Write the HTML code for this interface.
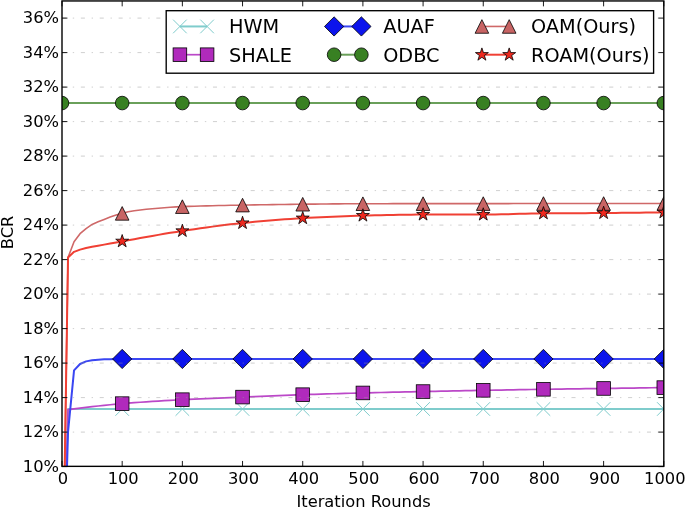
<!DOCTYPE html>
<html lang="en"><head><meta charset="utf-8"><title>BCR vs Iteration Rounds</title>
<style>html,body{margin:0;padding:0;background:#fff}body{width:685px;height:507px;overflow:hidden}</style>
</head><body>
<svg width="685" height="507" viewBox="0 0 685 507" style="display:block;font-family:'DejaVu Sans', 'Liberation Sans', sans-serif">
<rect width="685" height="507" fill="#fff"/>
<defs><clipPath id="ax"><rect x="62.0" y="0.95" width="601.8" height="465.40000000000003"/></clipPath></defs>
<g clip-path="url(#ax)">
<polyline points="62.00,639.10 68.02,408.99 74.04,408.99 80.05,408.99 86.07,408.99 92.09,408.99 98.11,408.99 104.13,408.99 110.14,408.99 116.16,408.99 122.18,408.99 128.20,408.99 134.22,408.99 140.23,408.99 146.25,408.99 152.27,408.99 158.29,408.99 164.31,408.99 170.32,408.99 176.34,408.99 182.36,408.99 188.38,408.99 194.40,408.99 200.41,408.99 206.43,408.99 212.45,408.99 218.47,408.99 224.49,408.99 230.50,408.99 236.52,408.99 242.54,408.99 248.56,408.99 254.58,408.99 260.59,408.99 266.61,408.99 272.63,408.99 278.65,408.99 284.67,408.99 290.68,408.99 296.70,408.99 302.72,408.99 308.74,408.99 314.76,408.99 320.77,408.99 326.79,408.99 332.81,408.99 338.83,408.99 344.85,408.99 350.86,408.99 356.88,408.99 362.90,408.99 368.92,408.99 374.94,408.99 380.95,408.99 386.97,408.99 392.99,408.99 399.01,408.99 405.03,408.99 411.04,408.99 417.06,408.99 423.08,408.99 429.10,408.99 435.12,408.99 441.13,408.99 447.15,408.99 453.17,408.99 459.19,408.99 465.21,408.99 471.22,408.99 477.24,408.99 483.26,408.99 489.28,408.99 495.30,408.99 501.31,408.99 507.33,408.99 513.35,408.99 519.37,408.99 525.39,408.99 531.40,408.99 537.42,408.99 543.44,408.99 549.46,408.99 555.48,408.99 561.49,408.99 567.51,408.99 573.53,408.99 579.55,408.99 585.57,408.99 591.58,408.99 597.60,408.99 603.62,408.99 609.64,408.99 615.66,408.99 621.67,408.99 627.69,408.99 633.71,408.99 639.73,408.99 645.75,408.99 651.76,408.99 657.78,408.99 663.80,408.99" fill="none" stroke="#7fcccc" stroke-width="2.0" stroke-linejoin="round"/>
<path d="M55.20,632.30L68.80,645.90M55.20,645.90L68.80,632.30" stroke="#7fcccc" stroke-width="1.0" fill="none"/>
<path d="M115.38,402.19L128.98,415.79M115.38,415.79L128.98,402.19" stroke="#7fcccc" stroke-width="1.0" fill="none"/>
<path d="M175.56,402.19L189.16,415.79M175.56,415.79L189.16,402.19" stroke="#7fcccc" stroke-width="1.0" fill="none"/>
<path d="M235.74,402.19L249.34,415.79M235.74,415.79L249.34,402.19" stroke="#7fcccc" stroke-width="1.0" fill="none"/>
<path d="M295.92,402.19L309.52,415.79M295.92,415.79L309.52,402.19" stroke="#7fcccc" stroke-width="1.0" fill="none"/>
<path d="M356.10,402.19L369.70,415.79M356.10,415.79L369.70,402.19" stroke="#7fcccc" stroke-width="1.0" fill="none"/>
<path d="M416.28,402.19L429.88,415.79M416.28,415.79L429.88,402.19" stroke="#7fcccc" stroke-width="1.0" fill="none"/>
<path d="M476.46,402.19L490.06,415.79M476.46,415.79L490.06,402.19" stroke="#7fcccc" stroke-width="1.0" fill="none"/>
<path d="M536.64,402.19L550.24,415.79M536.64,415.79L550.24,402.19" stroke="#7fcccc" stroke-width="1.0" fill="none"/>
<path d="M596.82,402.19L610.42,415.79M596.82,415.79L610.42,402.19" stroke="#7fcccc" stroke-width="1.0" fill="none"/>
<path d="M657.00,402.19L670.60,415.79M657.00,415.79L670.60,402.19" stroke="#7fcccc" stroke-width="1.0" fill="none"/>
<polyline points="62.00,639.10 68.02,409.68 74.04,408.88 80.05,408.12 86.07,407.38 92.09,406.66 98.11,405.98 104.13,405.34 110.14,404.73 116.16,404.16 122.18,403.64 128.20,403.15 134.22,402.68 140.23,402.24 146.25,401.82 152.27,401.42 158.29,401.04 164.31,400.67 170.32,400.32 176.34,399.99 182.36,399.67 188.38,399.37 194.40,399.08 200.41,398.81 206.43,398.55 212.45,398.30 218.47,398.05 224.49,397.81 230.50,397.57 236.52,397.33 242.54,397.08 248.56,396.83 254.58,396.58 260.59,396.32 266.61,396.07 272.63,395.81 278.65,395.57 284.67,395.33 290.68,395.10 296.70,394.88 302.72,394.67 308.74,394.47 314.76,394.28 320.77,394.10 326.79,393.92 332.81,393.75 338.83,393.58 344.85,393.41 350.86,393.25 356.88,393.10 362.90,392.94 368.92,392.79 374.94,392.64 380.95,392.50 386.97,392.36 392.99,392.22 399.01,392.09 405.03,391.95 411.04,391.82 417.06,391.69 423.08,391.56 429.10,391.43 435.12,391.31 441.13,391.18 447.15,391.06 453.17,390.94 459.19,390.82 465.21,390.70 471.22,390.58 477.24,390.47 483.26,390.36 489.28,390.24 495.30,390.13 501.31,390.03 507.33,389.92 513.35,389.82 519.37,389.71 525.39,389.61 531.40,389.51 537.42,389.42 543.44,389.32 549.46,389.23 555.48,389.14 561.49,389.05 567.51,388.96 573.53,388.88 579.55,388.79 585.57,388.71 591.58,388.63 597.60,388.54 603.62,388.46 609.64,388.37 615.66,388.29 621.67,388.20 627.69,388.11 633.71,388.03 639.73,387.94 645.75,387.85 651.76,387.77 657.78,387.68 663.80,387.60" fill="none" stroke="#bb48c8" stroke-width="1.7" stroke-linejoin="round"/>
<rect x="55.20" y="632.30" width="13.60" height="13.60" fill="#b02abc" stroke="#000" stroke-width="0.8"/>
<rect x="115.38" y="396.84" width="13.60" height="13.60" fill="#b02abc" stroke="#000" stroke-width="0.8"/>
<rect x="175.56" y="392.87" width="13.60" height="13.60" fill="#b02abc" stroke="#000" stroke-width="0.8"/>
<rect x="235.74" y="390.28" width="13.60" height="13.60" fill="#b02abc" stroke="#000" stroke-width="0.8"/>
<rect x="295.92" y="387.87" width="13.60" height="13.60" fill="#b02abc" stroke="#000" stroke-width="0.8"/>
<rect x="356.10" y="386.14" width="13.60" height="13.60" fill="#b02abc" stroke="#000" stroke-width="0.8"/>
<rect x="416.28" y="384.76" width="13.60" height="13.60" fill="#b02abc" stroke="#000" stroke-width="0.8"/>
<rect x="476.46" y="383.56" width="13.60" height="13.60" fill="#b02abc" stroke="#000" stroke-width="0.8"/>
<rect x="536.64" y="382.52" width="13.60" height="13.60" fill="#b02abc" stroke="#000" stroke-width="0.8"/>
<rect x="596.82" y="381.66" width="13.60" height="13.60" fill="#b02abc" stroke="#000" stroke-width="0.8"/>
<rect x="657.00" y="380.80" width="13.60" height="13.60" fill="#b02abc" stroke="#000" stroke-width="0.8"/>
<polyline points="62.00,639.10 68.02,432.10 74.04,370.35 80.05,363.96 86.07,361.38 92.09,360.17 98.11,359.65 104.13,359.33 110.14,359.13 116.16,359.01 122.18,358.96 128.20,358.96 134.22,358.96 140.23,358.96 146.25,358.96 152.27,358.96 158.29,358.96 164.31,358.96 170.32,358.96 176.34,358.96 182.36,358.96 188.38,358.96 194.40,358.96 200.41,358.96 206.43,358.96 212.45,358.96 218.47,358.96 224.49,358.96 230.50,358.96 236.52,358.96 242.54,358.96 248.56,358.96 254.58,358.96 260.59,358.96 266.61,358.96 272.63,358.96 278.65,358.96 284.67,358.96 290.68,358.96 296.70,358.96 302.72,358.96 308.74,358.96 314.76,358.96 320.77,358.96 326.79,358.96 332.81,358.96 338.83,358.96 344.85,358.96 350.86,358.96 356.88,358.96 362.90,358.96 368.92,358.96 374.94,358.96 380.95,358.96 386.97,358.96 392.99,358.96 399.01,358.96 405.03,358.96 411.04,358.96 417.06,358.96 423.08,358.96 429.10,358.96 435.12,358.96 441.13,358.96 447.15,358.96 453.17,358.96 459.19,358.96 465.21,358.96 471.22,358.96 477.24,358.96 483.26,358.96 489.28,358.96 495.30,358.96 501.31,358.96 507.33,358.96 513.35,358.96 519.37,358.96 525.39,358.96 531.40,358.96 537.42,358.96 543.44,358.96 549.46,358.96 555.48,358.96 561.49,358.96 567.51,358.96 573.53,358.96 579.55,358.96 585.57,358.96 591.58,358.96 597.60,358.96 603.62,358.96 609.64,358.96 615.66,358.96 621.67,358.96 627.69,358.96 633.71,358.96 639.73,358.96 645.75,358.96 651.76,358.96 657.78,358.96 663.80,358.96" fill="none" stroke="#3a46f2" stroke-width="2.0" stroke-linejoin="round"/>
<path d="M62.00,629.48L71.62,639.10L62.00,648.72L52.38,639.10Z" fill="#0c14ec" stroke="#000" stroke-width="0.8"/>
<path d="M122.18,349.34L131.80,358.96L122.18,368.58L112.56,358.96Z" fill="#0c14ec" stroke="#000" stroke-width="0.8"/>
<path d="M182.36,349.34L191.98,358.96L182.36,368.58L172.74,358.96Z" fill="#0c14ec" stroke="#000" stroke-width="0.8"/>
<path d="M242.54,349.34L252.16,358.96L242.54,368.58L232.92,358.96Z" fill="#0c14ec" stroke="#000" stroke-width="0.8"/>
<path d="M302.72,349.34L312.34,358.96L302.72,368.58L293.10,358.96Z" fill="#0c14ec" stroke="#000" stroke-width="0.8"/>
<path d="M362.90,349.34L372.52,358.96L362.90,368.58L353.28,358.96Z" fill="#0c14ec" stroke="#000" stroke-width="0.8"/>
<path d="M423.08,349.34L432.70,358.96L423.08,368.58L413.46,358.96Z" fill="#0c14ec" stroke="#000" stroke-width="0.8"/>
<path d="M483.26,349.34L492.88,358.96L483.26,368.58L473.64,358.96Z" fill="#0c14ec" stroke="#000" stroke-width="0.8"/>
<path d="M543.44,349.34L553.06,358.96L543.44,368.58L533.82,358.96Z" fill="#0c14ec" stroke="#000" stroke-width="0.8"/>
<path d="M603.62,349.34L613.24,358.96L603.62,368.58L594.00,358.96Z" fill="#0c14ec" stroke="#000" stroke-width="0.8"/>
<path d="M663.80,349.34L673.42,358.96L663.80,368.58L654.18,358.96Z" fill="#0c14ec" stroke="#000" stroke-width="0.8"/>
<polyline points="62.00,103.06 68.02,103.06 74.04,103.06 80.05,103.06 86.07,103.06 92.09,103.06 98.11,103.06 104.13,103.06 110.14,103.06 116.16,103.06 122.18,103.06 128.20,103.06 134.22,103.06 140.23,103.06 146.25,103.06 152.27,103.06 158.29,103.06 164.31,103.06 170.32,103.06 176.34,103.06 182.36,103.06 188.38,103.06 194.40,103.06 200.41,103.06 206.43,103.06 212.45,103.06 218.47,103.06 224.49,103.06 230.50,103.06 236.52,103.06 242.54,103.06 248.56,103.06 254.58,103.06 260.59,103.06 266.61,103.06 272.63,103.06 278.65,103.06 284.67,103.06 290.68,103.06 296.70,103.06 302.72,103.06 308.74,103.06 314.76,103.06 320.77,103.06 326.79,103.06 332.81,103.06 338.83,103.06 344.85,103.06 350.86,103.06 356.88,103.06 362.90,103.06 368.92,103.06 374.94,103.06 380.95,103.06 386.97,103.06 392.99,103.06 399.01,103.06 405.03,103.06 411.04,103.06 417.06,103.06 423.08,103.06 429.10,103.06 435.12,103.06 441.13,103.06 447.15,103.06 453.17,103.06 459.19,103.06 465.21,103.06 471.22,103.06 477.24,103.06 483.26,103.06 489.28,103.06 495.30,103.06 501.31,103.06 507.33,103.06 513.35,103.06 519.37,103.06 525.39,103.06 531.40,103.06 537.42,103.06 543.44,103.06 549.46,103.06 555.48,103.06 561.49,103.06 567.51,103.06 573.53,103.06 579.55,103.06 585.57,103.06 591.58,103.06 597.60,103.06 603.62,103.06 609.64,103.06 615.66,103.06 621.67,103.06 627.69,103.06 633.71,103.06 639.73,103.06 645.75,103.06 651.76,103.06 657.78,103.06 663.80,103.06" fill="none" stroke="#6aa05a" stroke-width="2.0" stroke-linejoin="round"/>
<circle cx="62.00" cy="103.06" r="6.80" fill="#388022" stroke="#000" stroke-width="0.8"/>
<circle cx="122.18" cy="103.06" r="6.80" fill="#388022" stroke="#000" stroke-width="0.8"/>
<circle cx="182.36" cy="103.06" r="6.80" fill="#388022" stroke="#000" stroke-width="0.8"/>
<circle cx="242.54" cy="103.06" r="6.80" fill="#388022" stroke="#000" stroke-width="0.8"/>
<circle cx="302.72" cy="103.06" r="6.80" fill="#388022" stroke="#000" stroke-width="0.8"/>
<circle cx="362.90" cy="103.06" r="6.80" fill="#388022" stroke="#000" stroke-width="0.8"/>
<circle cx="423.08" cy="103.06" r="6.80" fill="#388022" stroke="#000" stroke-width="0.8"/>
<circle cx="483.26" cy="103.06" r="6.80" fill="#388022" stroke="#000" stroke-width="0.8"/>
<circle cx="543.44" cy="103.06" r="6.80" fill="#388022" stroke="#000" stroke-width="0.8"/>
<circle cx="603.62" cy="103.06" r="6.80" fill="#388022" stroke="#000" stroke-width="0.8"/>
<circle cx="663.80" cy="103.06" r="6.80" fill="#388022" stroke="#000" stroke-width="0.8"/>
<polyline points="62.00,639.10 68.02,257.53 74.04,241.81 80.05,233.67 86.07,228.57 92.09,224.46 98.11,221.83 104.13,219.41 110.14,217.08 116.16,215.06 122.18,213.37 128.20,211.82 134.22,210.81 140.23,209.98 146.25,209.30 152.27,208.71 158.29,208.19 164.31,207.70 170.32,207.28 176.34,206.92 182.36,206.64 188.38,206.42 194.40,206.21 200.41,206.03 206.43,205.86 212.45,205.71 218.47,205.57 224.49,205.44 230.50,205.32 236.52,205.20 242.54,205.09 248.56,204.98 254.58,204.88 260.59,204.78 266.61,204.69 272.63,204.60 278.65,204.52 284.67,204.44 290.68,204.36 296.70,204.29 302.72,204.23 308.74,204.16 314.76,204.09 320.77,204.03 326.79,203.96 332.81,203.90 338.83,203.84 344.85,203.79 350.86,203.75 356.88,203.73 362.90,203.71 368.92,203.70 374.94,203.69 380.95,203.69 386.97,203.68 392.99,203.67 399.01,203.67 405.03,203.66 411.04,203.65 417.06,203.65 423.08,203.64 429.10,203.63 435.12,203.63 441.13,203.62 447.15,203.62 453.17,203.61 459.19,203.61 465.21,203.60 471.22,203.60 477.24,203.60 483.26,203.59 489.28,203.59 495.30,203.58 501.31,203.58 507.33,203.58 513.35,203.57 519.37,203.57 525.39,203.57 531.40,203.56 537.42,203.56 543.44,203.56 549.46,203.56 555.48,203.56 561.49,203.55 567.51,203.55 573.53,203.55 579.55,203.55 585.57,203.55 591.58,203.54 597.60,203.54 603.62,203.54 609.64,203.54 615.66,203.54 621.67,203.54 627.69,203.54 633.71,203.54 639.73,203.54 645.75,203.54 651.76,203.54 657.78,203.54 663.80,203.54" fill="none" stroke="#cf6868" stroke-width="1.6" stroke-linejoin="round"/>
<path d="M62.00,632.30L68.80,645.90L55.20,645.90Z" fill="#c86464" stroke="#000" stroke-width="0.8" stroke-linejoin="miter"/>
<path d="M122.18,206.57L128.98,220.17L115.38,220.17Z" fill="#c86464" stroke="#000" stroke-width="0.8" stroke-linejoin="miter"/>
<path d="M182.36,199.84L189.16,213.44L175.56,213.44Z" fill="#c86464" stroke="#000" stroke-width="0.8" stroke-linejoin="miter"/>
<path d="M242.54,198.29L249.34,211.89L235.74,211.89Z" fill="#c86464" stroke="#000" stroke-width="0.8" stroke-linejoin="miter"/>
<path d="M302.72,197.43L309.52,211.03L295.92,211.03Z" fill="#c86464" stroke="#000" stroke-width="0.8" stroke-linejoin="miter"/>
<path d="M362.90,196.91L369.70,210.51L356.10,210.51Z" fill="#c86464" stroke="#000" stroke-width="0.8" stroke-linejoin="miter"/>
<path d="M423.08,196.84L429.88,210.44L416.28,210.44Z" fill="#c86464" stroke="#000" stroke-width="0.8" stroke-linejoin="miter"/>
<path d="M483.26,196.79L490.06,210.39L476.46,210.39Z" fill="#c86464" stroke="#000" stroke-width="0.8" stroke-linejoin="miter"/>
<path d="M543.44,196.76L550.24,210.36L536.64,210.36Z" fill="#c86464" stroke="#000" stroke-width="0.8" stroke-linejoin="miter"/>
<path d="M603.62,196.74L610.42,210.34L596.82,210.34Z" fill="#c86464" stroke="#000" stroke-width="0.8" stroke-linejoin="miter"/>
<path d="M663.80,196.74L670.60,210.34L657.00,210.34Z" fill="#c86464" stroke="#000" stroke-width="0.8" stroke-linejoin="miter"/>
<polyline points="62.00,639.10 68.02,257.53 74.04,251.84 80.05,249.60 86.07,248.08 92.09,246.84 98.11,245.69 104.13,244.62 110.14,243.52 116.16,242.41 122.18,241.32 128.20,240.24 134.22,239.15 140.23,238.06 146.25,236.99 152.27,235.92 158.29,234.87 164.31,233.84 170.32,232.85 176.34,231.89 182.36,230.97 188.38,230.07 194.40,229.18 200.41,228.31 206.43,227.45 212.45,226.63 218.47,225.83 224.49,225.06 230.50,224.34 236.52,223.66 242.54,223.03 248.56,222.44 254.58,221.87 260.59,221.32 266.61,220.79 272.63,220.29 278.65,219.81 284.67,219.36 290.68,218.94 296.70,218.55 302.72,218.20 308.74,217.87 314.76,217.55 320.77,217.24 326.79,216.95 332.81,216.67 338.83,216.41 344.85,216.18 350.86,215.96 356.88,215.77 362.90,215.61 368.92,215.46 374.94,215.32 380.95,215.17 386.97,215.04 392.99,214.91 399.01,214.80 405.03,214.71 411.04,214.64 417.06,214.59 423.08,214.58 429.10,214.58 435.12,214.58 441.13,214.58 447.15,214.58 453.17,214.58 459.19,214.58 465.21,214.58 471.22,214.58 477.24,214.58 483.26,214.58 489.28,214.55 495.30,214.47 501.31,214.35 507.33,214.20 513.35,214.04 519.37,213.87 525.39,213.71 531.40,213.56 537.42,213.45 543.44,213.37 549.46,213.32 555.48,213.28 561.49,213.25 567.51,213.22 573.53,213.19 579.55,213.16 585.57,213.13 591.58,213.10 597.60,213.07 603.62,213.03 609.64,212.98 615.66,212.92 621.67,212.86 627.69,212.80 633.71,212.73 639.73,212.66 645.75,212.58 651.76,212.50 657.78,212.42 663.80,212.34" fill="none" stroke="#f04034" stroke-width="2.0" stroke-linejoin="round"/>
<path d="M62.00,632.30L60.47,637.00L55.53,637.00L59.53,639.90L58.00,644.60L62.00,641.70L66.00,644.60L64.47,639.90L68.47,637.00L63.53,637.00Z" fill="#ee281e" stroke="#000" stroke-width="0.8" stroke-linejoin="miter"/>
<path d="M122.18,234.52L120.65,239.21L115.71,239.21L119.71,242.12L118.18,246.82L122.18,243.91L126.18,246.82L124.65,242.12L128.65,239.21L123.71,239.21Z" fill="#ee281e" stroke="#000" stroke-width="0.8" stroke-linejoin="miter"/>
<path d="M182.36,224.17L180.83,228.86L175.89,228.86L179.89,231.77L178.36,236.47L182.36,233.56L186.36,236.47L184.83,231.77L188.83,228.86L183.89,228.86Z" fill="#ee281e" stroke="#000" stroke-width="0.8" stroke-linejoin="miter"/>
<path d="M242.54,216.23L241.01,220.93L236.07,220.93L240.07,223.83L238.54,228.53L242.54,225.63L246.54,228.53L245.01,223.83L249.01,220.93L244.07,220.93Z" fill="#ee281e" stroke="#000" stroke-width="0.8" stroke-linejoin="miter"/>
<path d="M302.72,211.40L301.19,216.10L296.25,216.10L300.25,219.00L298.72,223.70L302.72,220.80L306.72,223.70L305.19,219.00L309.19,216.10L304.25,216.10Z" fill="#ee281e" stroke="#000" stroke-width="0.8" stroke-linejoin="miter"/>
<path d="M362.90,208.81L361.37,213.51L356.43,213.51L360.43,216.42L358.90,221.11L362.90,218.21L366.90,221.11L365.37,216.42L369.37,213.51L364.43,213.51Z" fill="#ee281e" stroke="#000" stroke-width="0.8" stroke-linejoin="miter"/>
<path d="M423.08,207.78L421.55,212.48L416.61,212.48L420.61,215.38L419.08,220.08L423.08,217.17L427.08,220.08L425.55,215.38L429.55,212.48L424.61,212.48Z" fill="#ee281e" stroke="#000" stroke-width="0.8" stroke-linejoin="miter"/>
<path d="M483.26,207.78L481.73,212.48L476.79,212.48L480.79,215.38L479.26,220.08L483.26,217.17L487.26,220.08L485.73,215.38L489.73,212.48L484.79,212.48Z" fill="#ee281e" stroke="#000" stroke-width="0.8" stroke-linejoin="miter"/>
<path d="M543.44,206.57L541.91,211.27L536.97,211.27L540.97,214.17L539.44,218.87L543.44,215.97L547.44,218.87L545.91,214.17L549.91,211.27L544.97,211.27Z" fill="#ee281e" stroke="#000" stroke-width="0.8" stroke-linejoin="miter"/>
<path d="M603.62,206.23L602.09,210.92L597.15,210.92L601.15,213.83L599.62,218.53L603.62,215.62L607.62,218.53L606.09,213.83L610.09,210.92L605.15,210.92Z" fill="#ee281e" stroke="#000" stroke-width="0.8" stroke-linejoin="miter"/>
<path d="M663.80,205.54L662.27,210.23L657.33,210.23L661.33,213.14L659.80,217.84L663.80,214.93L667.80,217.84L666.27,213.14L670.27,210.23L665.33,210.23Z" fill="#ee281e" stroke="#000" stroke-width="0.8" stroke-linejoin="miter"/>
</g>
<path d="M62.0,432.10H663.8M62.0,397.60H663.8M62.0,363.10H663.8M62.0,328.60H663.8M62.0,294.10H663.8M62.0,259.60H663.8M62.0,225.10H663.8M62.0,190.60H663.8M62.0,156.10H663.8M62.0,121.60H663.8M62.0,87.10H663.8M62.0,52.60H663.8M62.0,18.10H663.8" stroke="#9a9a9a" stroke-opacity="0.7" stroke-width="0.68" stroke-dasharray="4.04 6.74 1.35 6.74" fill="none"/>
<path d="M62.0,466.60h5.4M663.8,466.60h-5.4M62.0,432.10h5.4M663.8,432.10h-5.4M62.0,397.60h5.4M663.8,397.60h-5.4M62.0,363.10h5.4M663.8,363.10h-5.4M62.0,328.60h5.4M663.8,328.60h-5.4M62.0,294.10h5.4M663.8,294.10h-5.4M62.0,259.60h5.4M663.8,259.60h-5.4M62.0,225.10h5.4M663.8,225.10h-5.4M62.0,190.60h5.4M663.8,190.60h-5.4M62.0,156.10h5.4M663.8,156.10h-5.4M62.0,121.60h5.4M663.8,121.60h-5.4M62.0,87.10h5.4M663.8,87.10h-5.4M62.0,52.60h5.4M663.8,52.60h-5.4M62.0,18.10h5.4M663.8,18.10h-5.4M62.00,466.35v-5.4M62.00,0.95v5.4M122.18,466.35v-5.4M122.18,0.95v5.4M182.36,466.35v-5.4M182.36,0.95v5.4M242.54,466.35v-5.4M242.54,0.95v5.4M302.72,466.35v-5.4M302.72,0.95v5.4M362.90,466.35v-5.4M362.90,0.95v5.4M423.08,466.35v-5.4M423.08,0.95v5.4M483.26,466.35v-5.4M483.26,0.95v5.4M543.44,466.35v-5.4M543.44,0.95v5.4M603.62,466.35v-5.4M603.62,0.95v5.4M663.80,466.35v-5.4M663.80,0.95v5.4" stroke="#000" stroke-width="0.9" fill="none"/>
<rect x="62.0" y="0.95" width="601.8" height="465.40000000000003" fill="none" stroke="#000" stroke-width="1.4"/>
<g font-size="16.3" fill="#000">
<text x="59.0" y="471.5" text-anchor="end">10%</text>
<text x="59.0" y="437.0" text-anchor="end">12%</text>
<text x="59.0" y="402.5" text-anchor="end">14%</text>
<text x="59.0" y="368.0" text-anchor="end">16%</text>
<text x="59.0" y="333.5" text-anchor="end">18%</text>
<text x="59.0" y="299.0" text-anchor="end">20%</text>
<text x="59.0" y="264.5" text-anchor="end">22%</text>
<text x="59.0" y="230.0" text-anchor="end">24%</text>
<text x="59.0" y="195.5" text-anchor="end">26%</text>
<text x="59.0" y="161.0" text-anchor="end">28%</text>
<text x="59.0" y="126.5" text-anchor="end">30%</text>
<text x="59.0" y="92.0" text-anchor="end">32%</text>
<text x="59.0" y="57.5" text-anchor="end">34%</text>
<text x="59.0" y="23.0" text-anchor="end">36%</text>
<text x="63.0" y="484.4" text-anchor="middle">0</text>
<text x="123.2" y="484.4" text-anchor="middle">100</text>
<text x="183.4" y="484.4" text-anchor="middle">200</text>
<text x="243.5" y="484.4" text-anchor="middle">300</text>
<text x="303.7" y="484.4" text-anchor="middle">400</text>
<text x="363.9" y="484.4" text-anchor="middle">500</text>
<text x="424.1" y="484.4" text-anchor="middle">600</text>
<text x="484.3" y="484.4" text-anchor="middle">700</text>
<text x="544.4" y="484.4" text-anchor="middle">800</text>
<text x="604.6" y="484.4" text-anchor="middle">900</text>
<text x="664.8" y="484.4" text-anchor="middle">1000</text>
<text x="363.6" y="506.9" text-anchor="middle">Iteration Rounds</text>
<text transform="translate(12.6,232.4) rotate(-90)" text-anchor="middle">BCR</text>
</g>
<rect x="166.2" y="10.7" width="487.40000000000003" height="62.5" fill="#fff" stroke="#000" stroke-width="1.36"/>
<g font-size="19.3" fill="#000">
<path d="M179.9,26.45H207.1" stroke="#7fcccc" stroke-width="2.0"/>
<path d="M173.10,19.65L186.70,33.25M173.10,33.25L186.70,19.65" stroke="#7fcccc" stroke-width="1.0" fill="none"/>
<path d="M200.30,19.65L213.90,33.25M200.30,33.25L213.90,19.65" stroke="#7fcccc" stroke-width="1.0" fill="none"/>
<text x="229.0" y="33.4">HWM</text>
<path d="M179.9,54.7H207.1" stroke="#bb48c8" stroke-width="1.7"/>
<rect x="173.10" y="47.90" width="13.60" height="13.60" fill="#b02abc" stroke="#000" stroke-width="0.8"/>
<rect x="200.30" y="47.90" width="13.60" height="13.60" fill="#b02abc" stroke="#000" stroke-width="0.8"/>
<text x="229.0" y="62.0">SHALE</text>
<path d="M334.1,26.45H361.4" stroke="#3a46f2" stroke-width="2.0"/>
<path d="M334.10,16.83L343.72,26.45L334.10,36.07L324.48,26.45Z" fill="#0c14ec" stroke="#000" stroke-width="0.8"/>
<path d="M361.40,16.83L371.02,26.45L361.40,36.07L351.78,26.45Z" fill="#0c14ec" stroke="#000" stroke-width="0.8"/>
<text x="383.2" y="33.4">AUAF</text>
<path d="M334.1,54.7H361.4" stroke="#6aa05a" stroke-width="2.0"/>
<circle cx="334.10" cy="54.70" r="6.80" fill="#388022" stroke="#000" stroke-width="0.8"/>
<circle cx="361.40" cy="54.70" r="6.80" fill="#388022" stroke="#000" stroke-width="0.8"/>
<text x="383.2" y="62.0">ODBC</text>
<path d="M481.9,26.45H509.2" stroke="#cf6868" stroke-width="1.6"/>
<path d="M481.90,19.65L488.70,33.25L475.10,33.25Z" fill="#c86464" stroke="#000" stroke-width="0.8" stroke-linejoin="miter"/>
<path d="M509.20,19.65L516.00,33.25L502.40,33.25Z" fill="#c86464" stroke="#000" stroke-width="0.8" stroke-linejoin="miter"/>
<text x="531.0" y="33.4">OAM(Ours)</text>
<path d="M481.9,54.7H509.2" stroke="#f04034" stroke-width="2.0"/>
<path d="M481.90,47.90L480.37,52.60L475.43,52.60L479.43,55.50L477.90,60.20L481.90,57.30L485.90,60.20L484.37,55.50L488.37,52.60L483.43,52.60Z" fill="#ee281e" stroke="#000" stroke-width="0.8" stroke-linejoin="miter"/>
<path d="M509.20,47.90L507.67,52.60L502.73,52.60L506.73,55.50L505.20,60.20L509.20,57.30L513.20,60.20L511.67,55.50L515.67,52.60L510.73,52.60Z" fill="#ee281e" stroke="#000" stroke-width="0.8" stroke-linejoin="miter"/>
<text x="531.0" y="62.0">ROAM(Ours)</text>
</g>
</svg>
</body></html>
